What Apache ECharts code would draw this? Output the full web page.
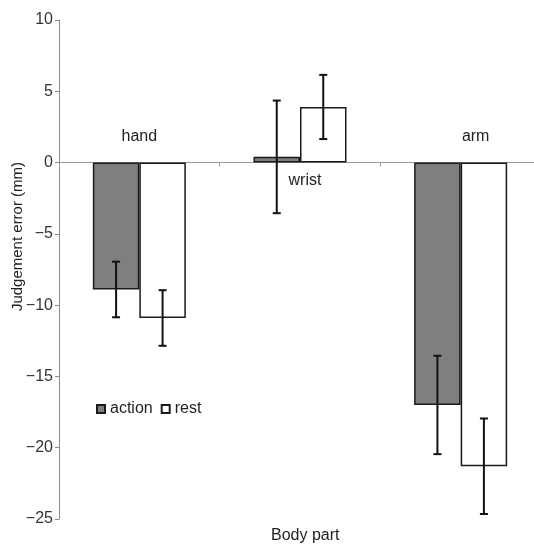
<!DOCTYPE html>
<html>
<head>
    <meta charset="UTF-8">
    <title>Judgement error by body part</title>
    <script src="https://cdn.jsdelivr.net/npm/echarts@6/dist/echarts.min.js"></script>
    <style>
        html, body { margin: 0; padding: 0; background: #fff; }
        #chart { width: 534px; height: 545px; }
    </style>
</head>
<body>
    <div id="chart"></div>
    <script>
        // data
        var categories = ['hand', 'wrist', 'arm'];
        var actionMean = [-8.9, 0.4, -17.0];
        var actionErr = [1.95, 3.95, 3.45];
        var restMean = [-10.9, 3.9, -21.3];
        var restErr = [1.95, 2.25, 3.35];
        var yTicks = { min: -25, max: 10, step: 5 };

        var font = 'Liberation Sans, Arial, sans-serif';
        var BAR_W = 46.5;
        var GRID = { left: 59, right: -7, top: 20, bottom: 26 };
        var H = 545;

        // labels sit on the zero line, not at the grid bottom, so work out how far up that is
        var plotH = H - GRID.top - GRID.bottom;
        var zeroFromBottom = plotH * (0 - yTicks.min) / (yTicks.max - yTicks.min);
        var labelMargin = -(zeroFromBottom + 34);

        function errData(mean, err) {
            return mean.map(function (m, i) { return [i, m - err[i], m + err[i]]; });
        }

        // draws one error bar, shifted to sit on its bar
        function errRenderer(shift) {
            return function (params, api) {
                var lo = api.coord([api.value(0), api.value(1)]);
                var hi = api.coord([api.value(0), api.value(2)]);
                var x = lo[0] + shift * BAR_W / 2;
                var cap = 4;
                var st = { stroke: '#111', lineWidth: 2 };
                return {
                    type: 'group',
                    children: [
                        { type: 'line', shape: { x1: x, y1: lo[1], x2: x, y2: hi[1] }, style: st },
                        { type: 'line', shape: { x1: x - cap, y1: lo[1], x2: x + cap, y2: lo[1] }, style: st },
                        { type: 'line', shape: { x1: x - cap, y1: hi[1], x2: x + cap, y2: hi[1] }, style: st }
                    ]
                };
            };
        }

        var chart = echarts.init(document.getElementById('chart'), null, { renderer: 'canvas' });
        chart.setOption({
            animation: false,
            backgroundColor: '#fff',
            textStyle: { fontFamily: font },
            title: {
                text: 'Body part',
                left: 271, top: 528,
                padding: 0,
                textStyle: { fontFamily: font, fontSize: 16, fontWeight: 'normal', color: '#222' }
            },
            legend: {
                left: 96, top: 401,
                itemWidth: 8, itemHeight: 8, itemGap: 8,
                padding: 0,
                textStyle: { fontFamily: font, fontSize: 16, color: '#222' },
                data: [
                    { name: 'action', icon: 'rect' },
                    { name: 'rest', icon: 'rect' }
                ]
            },
            grid: {
                left: GRID.left, right: GRID.right, top: GRID.top, bottom: GRID.bottom,
                containLabel: false, outerBoundsMode: 'none'
            },
            xAxis: {
                type: 'category',
                data: categories,
                axisLine: { onZero: true, lineStyle: { color: '#9a9a9a', width: 1 } },
                axisTick: { show: true, length: 4, lineStyle: { color: '#9a9a9a' } },
                axisLabel: {
                    margin: labelMargin,
                    fontFamily: font, fontSize: 16, color: '#222',
                    formatter: function (v) {
                        if (v === 'wrist') return '{w|' + v + '}';
                        if (v === 'arm') return '{a|' + v + '}';
                        return '{h|' + v + '}';
                    },
                    rich: {
                        h: { fontFamily: font, fontSize: 16, color: '#222' },
                        w: { fontFamily: font, fontSize: 16, color: '#222', padding: [44, 0, 0, 10] },
                        a: { fontFamily: font, fontSize: 16, color: '#222', padding: [0, 0, 0, 30] }
                    }
                },
                splitLine: { show: false }
            },
            yAxis: {
                type: 'value',
                min: yTicks.min, max: yTicks.max, interval: yTicks.step,
                name: 'Judgement error (mm)',
                nameLocation: 'middle',
                nameGap: 34,
                nameMoveOverlap: false,
                nameTextStyle: { fontFamily: font, fontSize: 15, color: '#222', padding: [0, 0, 0, 66] },
                axisLine: { show: true, lineStyle: { color: '#8a8a8a', width: 1 } },
                axisTick: { show: true, length: 4, lineStyle: { color: '#8a8a8a' } },
                axisLabel: {
                    margin: 6, fontFamily: font, fontSize: 16, color: '#333',
                    formatter: function (v) { return v < 0 ? '\u2212' + (-v) : String(v); }
                },
                splitLine: { show: false }
            },
            series: [
                {
                    name: 'action', type: 'bar', data: actionMean,
                    barWidth: BAR_W, barGap: '0%',
                    itemStyle: { color: '#7f7f7f', borderColor: '#1a1a1a', borderWidth: 1.5 }
                },
                {
                    name: 'rest', type: 'bar', data: restMean,
                    barWidth: BAR_W, barGap: '0%',
                    itemStyle: { color: '#ffffff', borderColor: '#1a1a1a', borderWidth: 1.5 }
                },
                {
                    type: 'custom', name: 'actionErr',
                    data: errData(actionMean, actionErr),
                    renderItem: errRenderer(-1),
                    encode: { x: 0, y: [1, 2] }, z: 5, silent: true
                },
                {
                    type: 'custom', name: 'restErr',
                    data: errData(restMean, restErr),
                    renderItem: errRenderer(1),
                    encode: { x: 0, y: [1, 2] }, z: 5, silent: true
                }
            ]
        });
    </script>
</body>
</html>
